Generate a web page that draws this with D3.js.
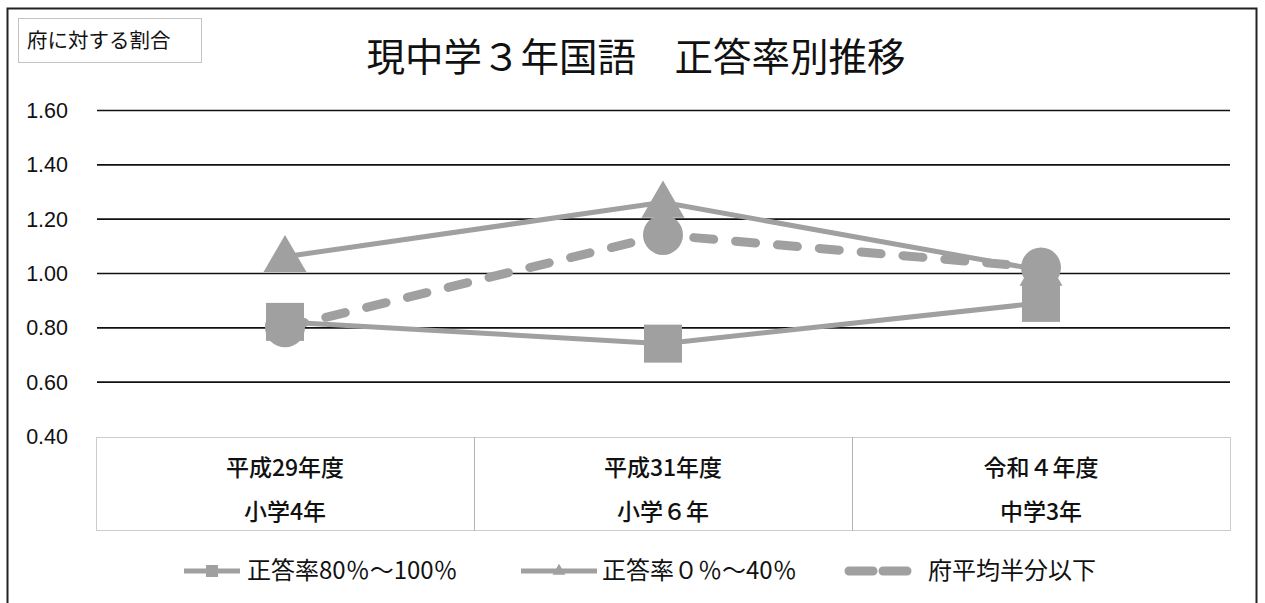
<!DOCTYPE html>
<html>
<head>
<meta charset="utf-8">
<script src="https://cdn.jsdelivr.net/npm/d3@7"></script>
<style>
  body { margin: 0; background: #fff; }
  svg { display: block; font-family: "Noto Sans CJK JP", "Noto Sans", sans-serif; }
</style>
</head>
<body>
<div id="chart"></div>
<script>
'use strict';

/*** Data */
const categories = ['平成29年度', '平成31年度', '令和４年度'];
const grades = ['小学4年', '小学６年', '中学3年'];
const high = [0.82, 0.74, 0.89];      // 正答率80%〜100%
const low = [1.06, 1.26, 1.01];       // 正答率0%〜40%
const halfAvg = [0.80, 1.14, 1.02];   // 府平均半分以下
const yTicks = [0.4, 0.6, 0.8, 1.0, 1.2, 1.4, 1.6];

const seriesNames = ['正答率80％〜100％', '正答率０％〜40％', '府平均半分以下'];

/*** Dimensions */
const w = 1265;
const h = 603;
const plotL = 96, plotR = 1230, plotT = 110, plotB = 436;
const grey = '#a0a0a0';

const svg = d3.select('#chart').append('svg')
  .attr('width', w)
  .attr('height', h);

/* outer frame */
svg.append('rect')
  .attr('x', 7.5).attr('y', 8.5)
  .attr('width', 1249).attr('height', 620)
  .attr('fill', 'none')
  .attr('stroke', '#222')
  .attr('stroke-width', 2);

/* title */
svg.append('text')
  .attr('x', 636).attr('y', 71)
  .attr('text-anchor', 'middle')
  .attr('font-size', 38.5)
  .attr('fill', '#111')
  .text('現中学３年国語　正答率別推移');

/* axis title box */
svg.append('rect')
  .attr('x', 18.5).attr('y', 18.5)
  .attr('width', 183).attr('height', 44)
  .attr('fill', 'none')
  .attr('stroke', '#888')
  .attr('stroke-dasharray', '1,1');
svg.append('text')
  .attr('x', 27).attr('y', 48)
  .attr('font-size', 20.5)
  .attr('fill', '#111')
  .text('府に対する割合');

/*** Scales */
const x = d3.scaleBand().domain(categories).range([plotL, plotR]);
const y = d3.scaleLinear().domain([0.4, 1.6]).range([plotB, plotT]);
const cx = (c) => x(c) + x.bandwidth() / 2;

/* y axis with gridlines */
const yAxis = d3.axisLeft(y)
  .tickValues(yTicks)
  .tickSizeInner(-(plotR - plotL))
  .tickSizeOuter(0)
  .tickPadding(28)
  .tickFormat(d3.format('.2f'));

const gy = svg.append('g')
  .attr('transform', 'translate(' + plotL + ',0)')
  .call(yAxis);
gy.select('.domain').remove();
gy.selectAll('.tick line')
  .attr('stroke', '#111')
  .attr('stroke-width', 1.6)
  .attr('x1', 1)
  .attr('opacity', (d) => d === 0.4 ? 0 : 1);
gy.selectAll('.tick text')
  .attr('font-size', 21.5)
  .attr('fill', '#111')
  .attr('dy', '0.35em');

/* category boxes */
const gx = svg.append('g');
gx.selectAll('rect')
  .data(categories)
  .enter()
  .append('rect')
  .attr('x', (d) => x(d) + 0.5)
  .attr('y', plotB + 1.5)
  .attr('width', x.bandwidth())
  .attr('height', 93)
  .attr('fill', 'none')
  .attr('stroke', '#999')
  .attr('stroke-dasharray', '1,1');
gx.selectAll('text.cat')
  .data(categories)
  .enter()
  .append('text')
  .attr('class', 'cat')
  .attr('x', (d) => cx(d))
  .attr('y', 476)
  .attr('text-anchor', 'middle')
  .attr('font-size', 23)
  .attr('font-weight', 500)
  .attr('fill', '#111')
  .text((d) => d);
gx.selectAll('text.grade')
  .data(grades)
  .enter()
  .append('text')
  .attr('class', 'grade')
  .attr('x', (d, i) => cx(categories[i]))
  .attr('y', 520)
  .attr('text-anchor', 'middle')
  .attr('font-size', 23)
  .attr('font-weight', 500)
  .attr('fill', '#111')
  .text((d) => d);

/*** Series */
const line = d3.line()
  .x((d) => cx(d.c))
  .y((d) => y(d.v));
const pts = (arr) => arr.map((v, i) => ({ c: categories[i], v: v }));

/* 80-100% : squares */
svg.append('path')
  .datum(pts(high))
  .attr('d', line)
  .attr('fill', 'none')
  .attr('stroke', grey)
  .attr('stroke-width', 5);
svg.selectAll('rect.sq')
  .data(pts(high))
  .enter()
  .append('rect')
  .attr('class', 'sq')
  .attr('x', (d) => cx(d.c) - 19)
  .attr('y', (d) => y(d.v) - 19)
  .attr('width', 38)
  .attr('height', 38)
  .attr('fill', grey);

/* 0-40% : triangles */
svg.append('path')
  .datum(pts(low))
  .attr('d', line)
  .attr('fill', 'none')
  .attr('stroke', grey)
  .attr('stroke-width', 5);
svg.selectAll('path.tri')
  .data(pts(low))
  .enter()
  .append('path')
  .attr('class', 'tri')
  .attr('d', d3.symbol(d3.symbolTriangle, 800))
  .attr('transform', (d) => 'translate(' + cx(d.c) + ',' + (y(d.v) + 3) + ')')
  .attr('fill', grey);

/* half of average : dashed + circles */
svg.append('path')
  .datum(pts(halfAvg))
  .attr('d', line)
  .attr('fill', 'none')
  .attr('stroke', grey)
  .attr('stroke-width', 9)
  .attr('stroke-linecap', 'round')
  .attr('stroke-dasharray', '20,22');
svg.selectAll('circle.dot')
  .data(pts(halfAvg))
  .enter()
  .append('circle')
  .attr('class', 'dot')
  .attr('cx', (d) => cx(d.c))
  .attr('cy', (d) => y(d.v))
  .attr('r', 20)
  .attr('fill', grey);

/*** Legend */
const legendY = 571;
const legend = [
  { x: 184, w: 56, tx: 247, kind: 'sq' },
  { x: 521, w: 76, tx: 602, kind: 'tri' },
  { x: 845, w: 70, tx: 928, kind: 'dash' }
];
legend.forEach((l, i) => {
  const g = svg.append('g');
  if (l.kind === 'dash') {
    g.append('line')
      .attr('x1', l.x + 4).attr('x2', l.x + l.w - 4)
      .attr('y1', legendY).attr('y2', legendY)
      .attr('stroke', grey)
      .attr('stroke-width', 9)
      .attr('stroke-linecap', 'round')
      .attr('stroke-dasharray', '24,10');
  } else {
    g.append('line')
      .attr('x1', l.x).attr('x2', l.x + l.w)
      .attr('y1', legendY).attr('y2', legendY)
      .attr('stroke', grey)
      .attr('stroke-width', 5);
    const mx = l.x + l.w / 2;
    if (l.kind === 'sq') {
      g.append('rect')
        .attr('x', mx - 6).attr('y', legendY - 6)
        .attr('width', 12).attr('height', 12)
        .attr('fill', grey);
    } else {
      g.append('path')
        .attr('d', d3.symbol(d3.symbolTriangle, 70))
        .attr('transform', 'translate(' + mx + ',' + legendY + ')')
        .attr('fill', grey);
    }
  }
  g.append('text')
    .attr('x', l.tx).attr('y', legendY + 8)
    .attr('font-size', 24)
    .attr('fill', '#111')
    .text(seriesNames[i]);
});
</script>
</body>
</html>
